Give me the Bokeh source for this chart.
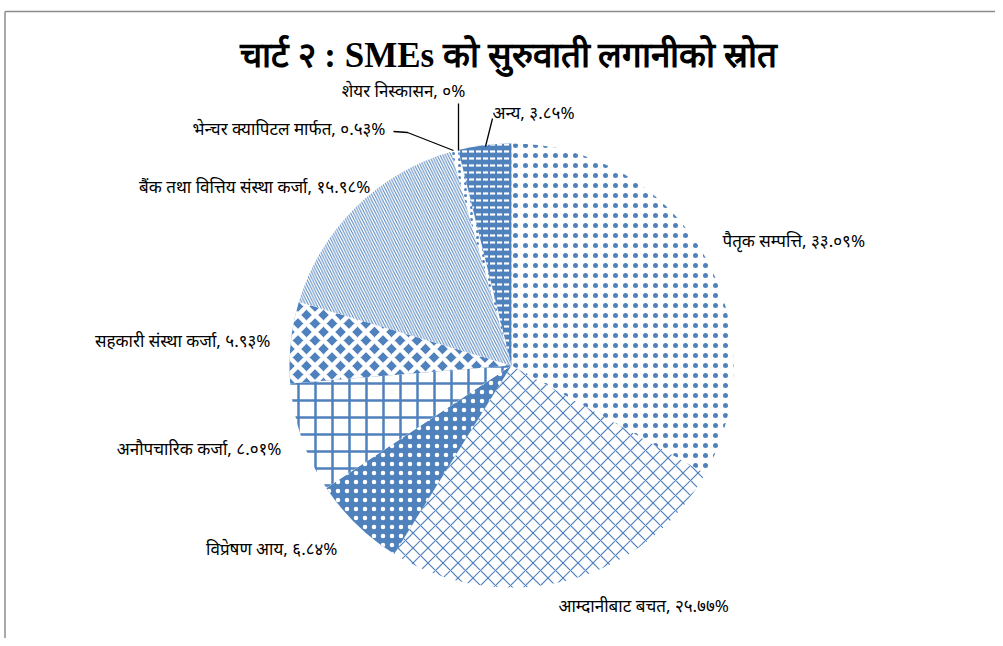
import numpy as np
from bokeh.plotting import figure
from bokeh.models import Range1d
from bokeh.core.properties import value
from bokeh.embed import file_html
from bokeh.resources import INLINE

title_text = "चार्ट २ : SMEs को सुरुवाती लगानीको स्रोत"
categories = ["पैतृक सम्पत्ति", "आम्दानीबाट बचत", "विप्रेषण आय", "अनौपचारिक कर्जा",
              "सहकारी संस्था कर्जा", "बैंक तथा वित्तिय संस्था कर्जा",
              "भेन्चर क्यापिटल मार्फत", "शेयर निस्कासन", "अन्य"]
shares = [33.09, 25.77, 6.84, 8.01, 5.93, 15.98, 0.53, 0.0, 3.85]

# styling per slice
BLUE = "#4F81BD"
fills = ["white", "white", BLUE, "white", BLUE, "white", "white", "white", BLUE]
hatch_colors = [BLUE, BLUE, "white", BLUE, "white", BLUE, BLUE, BLUE, "white"]
patterns = ["dot", "diagonal_cross", "dot", "cross", "diagonal_cross",
            "left_diagonal_line", "dot", "dot", "horizontal_dash"]
scales = [10, 15, 9, 17, 17, 5.5, 6, 6, 7]
weights = [1, 1.2, 1, 2.5, 4.5, 1, 1, 1, 2.2]

DIG = str.maketrans("0123456789", "०१२३४५६७८९")
def dev(v):
    return f"{v:g}".translate(DIG)

# page-pixel geometry: data y = 646 - page y
W, H = 995, 638
def py(y):
    return 646 - y

cx, cy, r = 511, py(365), 222

vals = np.array(shares) / 100.0
cum = np.concatenate([[0], np.cumsum(vals)])
start = np.pi / 2 - 2 * np.pi * cum[1:]
end = np.pi / 2 - 2 * np.pi * cum[:-1]

p = figure(width=W, height=H, output_backend="svg", toolbar_location=None,
           x_range=Range1d(0, W), y_range=Range1d(646 - H, 646),
           min_border=0, outline_line_color=None)
p.axis.visible = False
p.grid.visible = False
p.background_fill_color = "white"

for i in range(len(shares)):
    if shares[i] <= 0:
        continue
    p.wedge(x=cx, y=cy, radius=r, start_angle=start[i], end_angle=end[i],
            fill_color=fills[i], line_color=None, hatch_pattern=patterns[i],
            hatch_color=hatch_colors[i], hatch_scale=scales[i], hatch_weight=weights[i])

# chart border (top / left)
p.line(x=[4.5, W], y=[py(11), py(11)], line_color="#8c8c8c", line_width=1.5)
p.line(x=[4.5, 4.5], y=[py(11), 0], line_color="#8c8c8c", line_width=1.5)

# title
p.text(x=[508], y=[py(55)], text=[title_text], text_font=value("Liberation Serif"),
       text_font_style="bold", text_font_size="35px", text_align="center",
       text_baseline="middle", text_color="black")

# data labels
label_pos = [(722, 240, "left"), (558, 605, "left"), (337, 548, "right"),
             (281, 448, "right"), (270, 340, "right"), (370, 186, "right"),
             (385, 128, "right"), (403, 90, "center"), (492, 112, "left")]
texts = [f"{c}, {dev(v)}%" for c, v in zip(categories, shares)]
for (lx, ly, al), t in zip(label_pos, texts):
    p.text(x=[lx], y=[py(ly)], text=[t], text_font=value("Noto Sans"),
           text_font_size="17px", text_align=al, text_baseline="middle",
           text_color="black")

# leader lines
p.line(x=[393, 407, 453], y=[py(131), py(132), py(150)], line_color="black", line_width=1.3)
p.line(x=[458, 458], y=[py(103), py(150)], line_color="black", line_width=1.3)
p.line(x=[492, 485], y=[py(118), py(146)], line_color="black", line_width=1.3)

open("out.html", "w").write(file_html(p, INLINE))
